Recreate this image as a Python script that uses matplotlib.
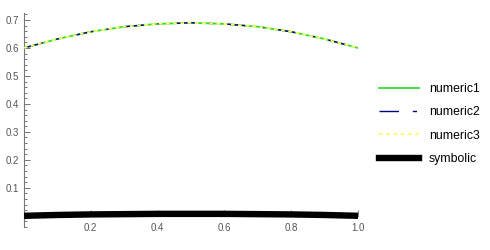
import matplotlib
matplotlib.use("Agg")
import matplotlib.pyplot as plt
from matplotlib.ticker import MultipleLocator, FixedLocator

plt.rcParams["font.family"] = ["Liberation Sans", "DejaVu Sans"]

# values
x = [0.0, 0.1, 0.2, 0.3, 0.4, 0.5, 0.6, 0.7, 0.8, 0.9, 1.0]
numeric = [0.600, 0.632, 0.658, 0.676, 0.686, 0.690, 0.686, 0.676, 0.658, 0.632, 0.600]
symbolic = [0.000, 0.003, 0.005, 0.006, 0.007, 0.007, 0.007, 0.006, 0.005, 0.003, 0.000]
names = ["numeric1", "numeric2", "numeric3", "symbolic"]

axis_gray = "#777777"
label_gray = "#555555"

fig = plt.figure(figsize=(4.9, 2.5), dpi=100)
ax = fig.add_axes([24 / 490, 1 - 227 / 250, (358 - 24) / 490, (227 - 13) / 250])

l1, = ax.plot(x, numeric, color="#33dd33", lw=1.3, zorder=3)
l2, = ax.plot(x, numeric, color="#000080", lw=1.0, dashes=(14, 10, 3, 10), zorder=4)
l3, = ax.plot(x, numeric, color="#ffff66", lw=1.3, dashes=(2, 2), zorder=5)
l4, = ax.plot(x, symbolic, color="black", lw=4.6, solid_capstyle="projecting", zorder=6)

ax.set_xlim(0, 1.0)
ax.set_ylim(-0.04, 0.725)

for s in ("top", "right"):
    ax.spines[s].set_visible(False)
ax.spines["left"].set_position(("data", 0))
ax.spines["bottom"].set_position(("data", 0))
for s in ("left", "bottom"):
    ax.spines[s].set_color(axis_gray)
    ax.spines[s].set_linewidth(0.8)

ax.xaxis.set_major_locator(FixedLocator([0.2, 0.4, 0.6, 0.8, 1.0]))
ax.xaxis.set_minor_locator(MultipleLocator(0.05))
ax.yaxis.set_major_locator(FixedLocator([0.1, 0.2, 0.3, 0.4, 0.5, 0.6, 0.7]))
ax.yaxis.set_minor_locator(MultipleLocator(0.02))
ax.xaxis.set_major_formatter(plt.FixedFormatter(["0.2", "0.4", "0.6", "0.8", "1.0"]))
ax.tick_params(which="both", direction="in", colors=axis_gray, labelcolor=label_gray,
               labelsize=7, width=0.7)
ax.tick_params(which="major", length=4)
ax.tick_params(which="minor", length=2)
ax.tick_params(axis="x", pad=5)

fig.legend([l1, l2, l3, l4], names, loc="upper left", bbox_to_anchor=(368 / 490, 1 - 72 / 250),
           frameon=False, fontsize=8.8, handlelength=3.3, labelspacing=0.93, handletextpad=0.8)

fig.savefig("out.png", dpi=100)
